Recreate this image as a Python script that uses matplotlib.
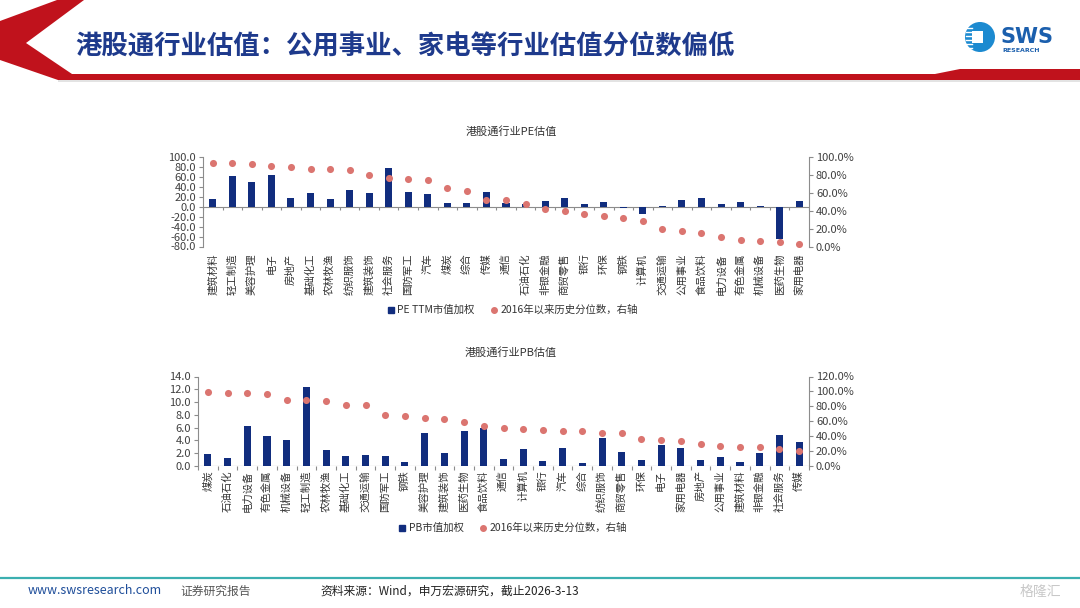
import numpy as np
import matplotlib.pyplot as plt
from matplotlib.patches import Polygon, Circle, Rectangle

plt.rcParams['font.family'] = ['Noto Sans CJK SC', 'DejaVu Sans']

# PE chart data
pe_cats = ['建筑材料', '轻工制造', '美容护理', '电子', '房地产', '基础化工', '农林牧渔', '纺织服饰',
           '建筑装饰', '社会服务', '国防军工', '汽车', '煤炭', '综合', '传媒', '通信', '石油石化',
           '非银金融', '商贸零售', '银行', '环保', '钢铁', '计算机', '交通运输', '公用事业',
           '食品饮料', '电力设备', '有色金属', '机械设备', '医药生物', '家用电器']
pe_vals = [15, 61, 49, 64, 18, 27, 15, 33, 27, 77, 29, 25, 7, 7, 30, 8, 5, 11, 18, 5, 9,
           -2, -15, 1, 13, 17, 5, 9, 0.5, -65, 12]
pe_pct = [0.93, 0.93, 0.92, 0.90, 0.885, 0.87, 0.87, 0.85, 0.80, 0.77, 0.75, 0.74, 0.655,
          0.62, 0.515, 0.515, 0.478, 0.422, 0.40, 0.363, 0.34, 0.318, 0.28, 0.19, 0.174,
          0.148, 0.104, 0.074, 0.067, 0.052, 0.026]

# PB chart data
pb_cats = ['煤炭', '石油石化', '电力设备', '有色金属', '机械设备', '轻工制造', '农林牧渔', '基础化工',
           '交通运输', '国防军工', '钢铁', '美容护理', '建筑装饰', '医药生物', '食品饮料', '通信',
           '计算机', '银行', '汽车', '综合', '纺织服饰', '商贸零售', '环保', '电子', '家用电器',
           '房地产', '公用事业', '建筑材料', '非银金融', '社会服务', '传媒']
pb_vals = [1.9, 1.3, 6.3, 4.7, 4.1, 12.3, 2.5, 1.5, 1.65, 1.6, 0.7, 5.15, 2.05, 5.55, 6.0,
           1.1, 2.7, 0.8, 2.8, 0.45, 4.4, 2.25, 0.9, 3.3, 2.8, 1.0, 1.4, 0.7, 2.0, 4.9, 3.8]
pb_pct = [0.993, 0.98, 0.975, 0.962, 0.891, 0.882, 0.878, 0.82, 0.82, 0.688, 0.666, 0.649,
          0.626, 0.596, 0.53, 0.507, 0.494, 0.477, 0.472, 0.463, 0.446, 0.437, 0.362, 0.344,
          0.331, 0.291, 0.273, 0.26, 0.251, 0.229, 0.207]

BAR = '#112D7E'
DOT = '#DB7570'
SPINE = '#8C8C8C'
TXT = '#404040'

W, H = 1080, 608
fig = plt.figure(figsize=(10.8, 6.08), dpi=100)

# background layer in pixel coordinates
bg = fig.add_axes([0, 0, 1, 1], zorder=-5)
bg.set_xlim(0, W)
bg.set_ylim(H, 0)
bg.axis('off')

red = '#C0121C'
bg.add_patch(Polygon([(57, 0), (84, 0), (26, 43), (72, 74), (58, 80), (0, 60), (0, 21)],
                     closed=True, color=red, lw=0))
bg.add_patch(Polygon([(58, 74), (935, 74), (960, 69), (1080, 69), (1080, 80), (58, 80)],
                     closed=True, color=red, lw=0))
bg.add_patch(Rectangle((58, 80), 1022, 2, color='#E3E3E3', lw=0))
bg.text(75, 47, '港股通行业估值：公用事业、家电等行业估值分位数偏低', fontsize=19,
        fontweight='bold', color='#1E3A8C', va='center', ha='left')

# logo
bg.add_patch(Circle((980, 37), 15, color='#1C8AD0', lw=0))
bg.add_patch(Rectangle((972, 31), 11, 12, color='white', lw=0))
for yy in [28, 32, 36, 40, 44, 48]:
    bg.plot([966, 972], [yy, yy], color='white', lw=1)
bg.text(1001, 37, 'SWS', fontsize=15, fontweight='bold', color='#1B5FAD',
        va='center', ha='left', family='DejaVu Sans')
bg.text(1002, 51, 'RESEARCH', fontsize=4.5, fontweight='bold', color='#1B5FAD',
        va='center', ha='left', family='DejaVu Sans')

# footer
bg.plot([0, W], [578, 578], color='#3BAFB0', lw=1.6)
bg.text(28, 591, 'www.swsresearch.com', fontsize=9, color='#1F4E9A', va='center')
bg.text(180, 591, '证券研究报告', fontsize=8.5, color='#555555', va='center')
bg.text(320, 591, '资料来源：Wind，申万宏源研究，截止2026-3-13', fontsize=8.5, color='#222222', va='center')
bg.text(1040, 592, '格隆汇', fontsize=10, color='#C8C8C8', va='center', ha='center')


def style_axes(ax, ax2):
    for s in ['top', 'bottom']:
        ax.spines[s].set_visible(False)
        ax2.spines[s].set_visible(False)
    ax.spines['right'].set_visible(False)
    ax2.spines['left'].set_visible(False)
    ax.spines['left'].set_color(SPINE)
    ax2.spines['right'].set_color(SPINE)
    ax.tick_params(axis='y', colors=SPINE, labelcolor=TXT, labelsize=8, length=3, pad=2)
    ax2.tick_params(axis='y', colors=SPINE, labelcolor=TXT, labelsize=8, length=3, pad=2)
    ax.tick_params(axis='x', length=0, labelsize=7.5, labelcolor='#333333')
    ax.patch.set_alpha(0)


def legend(ax, y, label):
    h1 = plt.Line2D([], [], marker='s', color=BAR, ls='none', markersize=4)
    h2 = plt.Line2D([], [], marker='o', color=DOT, ls='none', markersize=4)
    fig.legend([h1, h2], [label, '2016年以来历史分位数，右轴'], loc='center',
               bbox_to_anchor=(0.475, 1 - y / H), ncol=2, frameon=False, fontsize=7.5,
               handlelength=0.6, handletextpad=0.3, columnspacing=1.6, labelcolor='#333333')


# ---- PE chart ----
n = len(pe_cats)
x = np.arange(n)
ax = fig.add_axes([203 / W, 1 - 246.5 / H, 606 / W, 89.5 / H])
ax2 = ax.twinx()
ax.bar(x, pe_vals, width=0.36, color=BAR, zorder=2)
ax.axhline(0, color=SPINE, lw=0.8, zorder=1)
ax.vlines(np.arange(n + 1) - 0.5, -7, 0, color=SPINE, lw=0.8)
ax.set_xlim(-0.5, n - 0.5)
ax.set_ylim(-80, 100)
ax.set_yticks(np.arange(-80, 101, 20))
ax.set_yticklabels(['%.1f' % v for v in np.arange(-80, 101, 20)])
ax.set_xticks(x)
ax.set_xticklabels(pe_cats, rotation=90, va='top', ha='center')
ax.tick_params(axis='x', pad=5)
ax2.scatter(x, pe_pct, s=26, color=DOT, zorder=3, lw=0)
ax2.set_ylim(0, 1)
ax2.set_yticks(np.arange(0, 1.01, 0.2))
ax2.set_yticklabels(['%.1f%%' % (v * 100) for v in np.arange(0, 1.01, 0.2)])
style_axes(ax, ax2)
fig.text(511 / W, 1 - 131 / H, '港股通行业PE估值', fontsize=8, color='#333333', ha='center', va='center')
legend(ax, 310, 'PE TTM市值加权')

# ---- PB chart ----
n = len(pb_cats)
x = np.arange(n)
bx = fig.add_axes([198 / W, 1 - 466 / H, 611 / W, 89.5 / H])
bx2 = bx.twinx()
bx.bar(x, pb_vals, width=0.36, color=BAR, zorder=2)
bx.axhline(0, color=SPINE, lw=0.8, zorder=1)
bx.vlines(np.arange(n + 1) - 0.5, -0.55, 0, color=SPINE, lw=0.8, clip_on=False)
bx.set_xlim(-0.5, n - 0.5)
bx.set_ylim(0, 14)
bx.set_yticks(np.arange(0, 14.1, 2))
bx.set_yticklabels(['%.1f' % v for v in np.arange(0, 14.1, 2)])
bx.set_xticks(x)
bx.set_xticklabels(pb_cats, rotation=90, va='top', ha='center')
bx.tick_params(axis='x', pad=3)
bx2.scatter(x, pb_pct, s=26, color=DOT, zorder=3, lw=0)
bx2.set_ylim(0, 1.2)
bx2.set_yticks(np.arange(0, 1.21, 0.2))
bx2.set_yticklabels(['%.1f%%' % (v * 100) for v in np.arange(0, 1.21, 0.2)])
style_axes(bx, bx2)
fig.text(511 / W, 1 - 352 / H, '港股通行业PB估值', fontsize=8, color='#333333', ha='center', va='center')
legend(bx, 528, 'PB市值加权')

fig.savefig('out.png', dpi=100, facecolor='white')
